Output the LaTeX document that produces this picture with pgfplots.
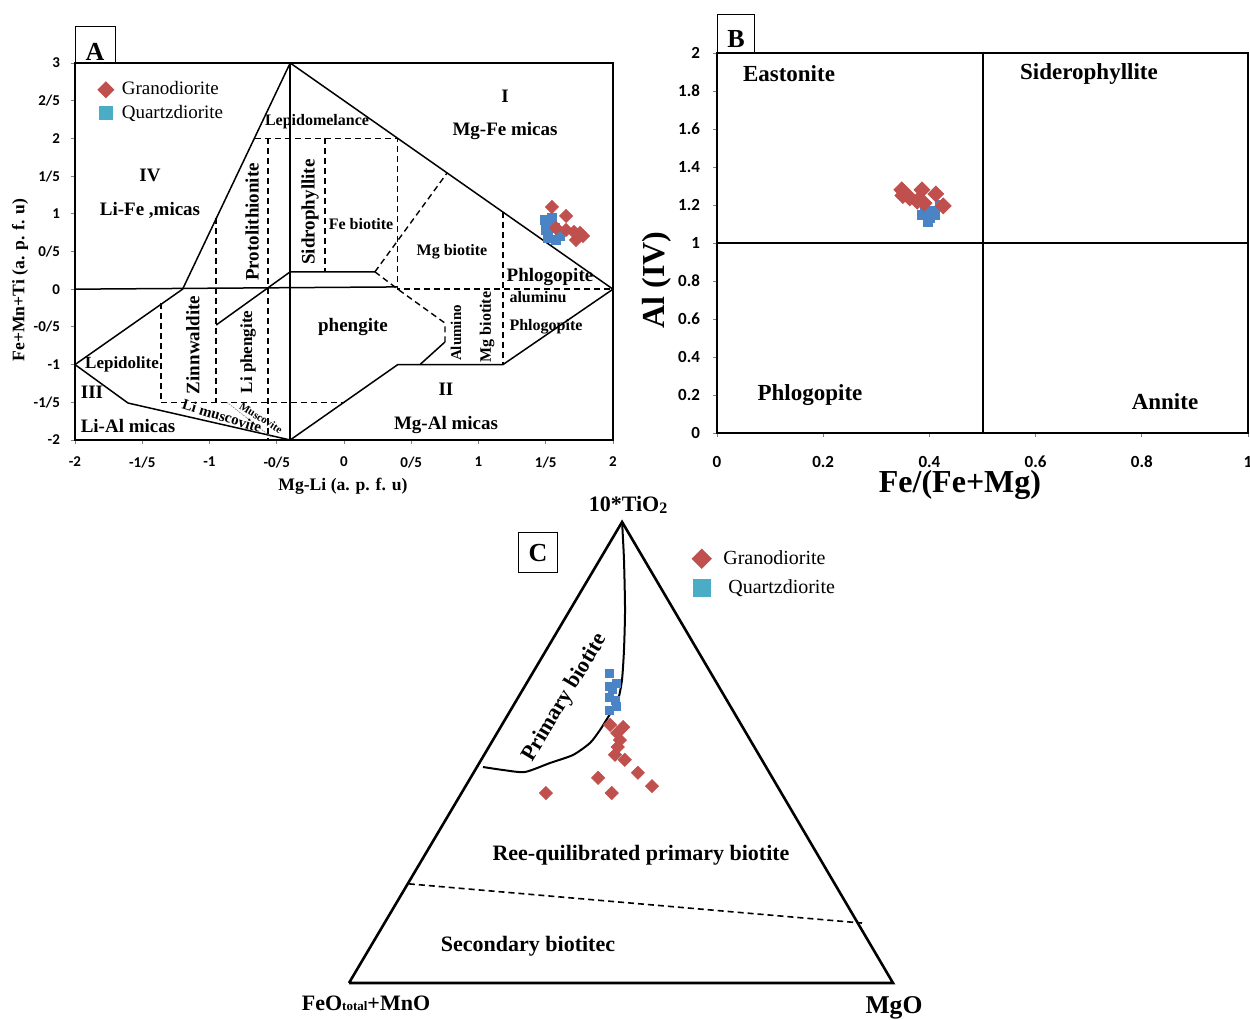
\documentclass[border=0pt]{standalone}
\usepackage{pgfplots}
\pgfplotsset{compat=1.18}
\usepackage{fontspec}
\setmainfont{Liberation Serif}
\newfontfamily\tickfont{Carlito}
\definecolor{gred}{HTML}{C0504D}
\definecolor{qblue}{HTML}{4BACC6}
\definecolor{qdata}{HTML}{4A84C4}
\newcommand{\fs}[1]{\fontsize{#1}{#1}\selectfont}
\begin{document}
\begin{tikzpicture}
\path[use as bounding box] (0,0) rectangle (625pt,510pt);
%================ Panel A ================
\begin{axis}[
  at={(37.5pt,290pt)}, anchor=south west,
  scale only axis, width=269pt, height=188.5pt,
  xmin=-2, xmax=2, ymin=-2, ymax=3,
  xtick={-2,-1.5,-1,-0.5,0,0.5,1,1.5,2},
  ytick={-2,-1.5,-1,-0.5,0,0.5,1,1.5,2,2.5,3},
  xticklabels={-2,-1/5,-1,-0/5,0,0/5,1,1/5,2},
  yticklabels={-2,-1/5,-1,-0/5,0,0/5,1,1/5,2,2/5,3},
  tick label style={font=\tickfont\bfseries\fs{7.5}},
  xticklabel style={yshift=-3pt},
  yticklabel style={xshift=-2pt},
  tick align=outside, tick pos=left, major tick length=2pt,
  every tick/.style={gray},
  axis line style={line width=0.7pt},
  clip=false,
  legend style={draw=none, fill=none, at={(0.042,0.962)}, anchor=north west,
    font=\fs{9.5}, inner sep=0pt, row sep=-0.5pt,
    /tikz/every odd column/.append style={column sep=2pt}},
  legend cell align=left,
]
\addlegendimage{only marks, mark=square*, mark size=2.8pt, mark options={rotate=45, fill=gred, draw=gred}}
\addlegendentry{Granodiorite}
\addlegendimage{only marks, mark=square*, mark size=3.3pt, mark options={fill=qblue, draw=qblue}}
\addlegendentry{Quartzdiorite}
% solid boundaries
\addplot[forget plot, black, line width=0.75pt] coordinates {(-2,-1) (-1.2,0) (-0.4,3) (2,0)};
\addplot[forget plot, black, line width=0.75pt] coordinates {(-2,0) (0.4,0.03)};
\addplot[forget plot, black, line width=0.75pt] coordinates {(-0.4,3) (-0.4,-2)};
\addplot[forget plot, black, line width=0.75pt] coordinates {(-0.95,-0.475) (-0.4,0.23) (0.23,0.23)};
\addplot[forget plot, black, line width=0.75pt] coordinates {(-2,-1) (-1.606,-1.51) (-0.4,-2) (0.4,-1) (1.182,-1) (2,0)};
\addplot[forget plot, black, line width=0.75pt] coordinates {(0.565,-1) (0.751,-0.70)};
% dashed boundaries
\addplot[forget plot, black, line width=0.7pt, dash pattern=on 3pt off 2pt] coordinates {(-0.662,2) (0.4,2) (0.4,0) (2,0)};
\addplot[forget plot, black, line width=0.7pt, dash pattern=on 3pt off 2pt] coordinates {(0.23,0.23) (0.766,1.54)};
\addplot[forget plot, black, line width=0.7pt, dash pattern=on 3pt off 2pt] coordinates {(0.23,0.23) (0.4,0.0) (0.751,-0.45) (0.751,-0.70)};
\addplot[forget plot, black, line width=0.7pt, dash pattern=on 3pt off 2pt] coordinates {(-0.141,2) (-0.141,0.23)};
\addplot[forget plot, black, line width=0.7pt, dash pattern=on 3pt off 2pt] coordinates {(-0.565,2) (-0.565,-2)};
\addplot[forget plot, black, line width=0.7pt, dash pattern=on 3pt off 2pt] coordinates {(-0.952,0.95) (-0.952,-1.5)};
\addplot[forget plot, black, line width=0.7pt, dash pattern=on 3pt off 2pt] coordinates {(-1.361,-0.18) (-1.361,-1.5) (0.007,-1.5)};
\addplot[forget plot, black, line width=0.7pt, dash pattern=on 3pt off 2pt] coordinates {(1.182,1.02) (1.182,-1)};
\addplot[forget plot, gray, line width=0.3pt, dash pattern=on 0.8pt off 0.5pt] coordinates {(-0.87,-1.5) (-0.535,-1.97)};
% data
\addplot[forget plot, only marks, mark=square*, mark size=2.1pt, color=qdata] coordinates {
(1.494,0.918) (1.546,0.944) (1.502,0.785) (1.569,0.812) (1.517,0.679) (1.576,0.653) (1.606,0.706) (1.53,0.86)};
\addplot[forget plot, only marks, mark=square*, mark size=2.3pt, mark options={rotate=45}, color=gred] coordinates {
(1.546,1.090) (1.651,0.971) (1.576,0.812) (1.651,0.785) (1.710,0.759) (1.755,0.745) (1.777,0.706) (1.725,0.653)};
\end{axis}
%================ Panel B ================
\begin{axis}[
  at={(358.5pt,293.5pt)}, anchor=south west,
  scale only axis, width=265.5pt, height=190pt,
  xmin=0, xmax=1, ymin=0, ymax=2,
  xtick={0,0.2,0.4,0.6,0.8,1},
  ytick={0,0.2,0.4,0.6,0.8,1,1.2,1.4,1.6,1.8,2},
  /pgf/number format/assume math mode=true,
  tick label style={font=\tickfont\bfseries\fs{8.5}},
  xticklabel style={yshift=-6pt},
  yticklabel style={xshift=-3pt},
  tick align=outside, tick pos=left, major tick length=2pt,
  every tick/.style={gray},
  axis line style={line width=1pt},
  clip=false,
]
\addplot[black, line width=1pt] coordinates {(0,1) (1,1)};
\addplot[black, line width=1pt] coordinates {(0.5,0) (0.5,2)};
\addplot[only marks, mark=square*, mark size=2.2pt, color=qdata] coordinates {
(0.392,1.17) (0.401,1.13) (0.397,1.11) (0.41,1.147) (0.42,1.2) (0.386,1.147) (0.405,1.17)};
\addplot[only marks, mark=square*, mark size=2.8pt, mark options={rotate=45}, color=gred] coordinates {
(0.348,1.28) (0.350,1.25) (0.363,1.237) (0.377,1.22) (0.386,1.28) (0.390,1.21) (0.412,1.258) (0.426,1.195)};
\end{axis}
%================ Panel C ================
\begin{axis}[
  at={(174.5pt,18.5pt)}, anchor=south west,
  scale only axis, width=272pt, height=230.5pt,
  xmin=0, xmax=1, ymin=0, ymax=1,
  axis lines=none, clip=false,
  legend style={draw=none, fill=none, at={(0.63,0.948)}, anchor=north west,
    font=\fs{10}, inner sep=0pt, row sep=2pt,
    /tikz/every odd column/.append style={column sep=4pt}},
  legend cell align=left,
]
\addlegendimage{only marks, mark=square*, mark size=3.4pt, mark options={rotate=45, fill=gred, draw=gred}}
\addlegendentry{Granodiorite}
\addlegendimage{only marks, mark=square*, mark size=4.2pt, mark options={fill=qblue, draw=qblue}}
\addlegendentry{\ Quartzdiorite}
\addplot[forget plot, black, line width=1.3pt] coordinates {(0,0) (0.502,1) (1,0) (0,0)};
\addplot[forget plot, black, line width=0.8pt, dash pattern=on 3pt off 2pt] coordinates {(0.110,0.215) (0.943,0.130)};
\addplot[forget plot, black, line width=1pt, smooth, tension=0.4] coordinates {
(0.502,1.0) (0.5055,0.9176) (0.5074,0.8091) (0.5055,0.7223) (0.5018,0.6573) (0.4945,0.6139)
(0.4798,0.5835) (0.4614,0.5488) (0.4430,0.5206) (0.4118,0.4946) (0.3695,0.4772) (0.3235,0.4577)
(0.2831,0.4620) (0.2463,0.4685)};
\addplot[forget plot, only marks, mark=square*, mark size=2pt, color=qdata] coordinates {
(0.478,0.672) (0.491,0.649) (0.478,0.644) (0.478,0.620) (0.489,0.614) (0.478,0.592) (0.491,0.601) (0.485,0.636)};
\addplot[forget plot, only marks, mark=square*, mark size=2.3pt, mark options={rotate=45}, color=gred] coordinates {
(0.480,0.560) (0.504,0.555) (0.493,0.542) (0.498,0.527) (0.494,0.512) (0.489,0.495) (0.507,0.484)
(0.531,0.456) (0.557,0.427) (0.458,0.445) (0.483,0.412) (0.362,0.412)};
\end{axis}
%================ Texts (pixel coordinates) ================
\begin{scope}[x=0.5pt,y=-0.5pt,yshift=510pt]
% boxes
\draw[line width=0.5pt] (75,27) rectangle (115,63);
\node[anchor=base, font=\bfseries\fs{13}, inner sep=0pt] at (95,61) {A};
\draw[line width=0.5pt] (717,15) rectangle (754,53);
\node[anchor=base, font=\bfseries\fs{13}, inner sep=0pt] at (736,48) {B};
\draw[line width=0.5pt] (518,533) rectangle (557,573);
\node[anchor=base, font=\bfseries\fs{13}, inner sep=0pt] at (538,562) {C};
% Panel A labels
\begin{scope}[every node/.style={inner sep=0pt, font=\bfseries\fs{9.5}}]
\node[font=\bfseries\fs{8}] at (317,122) {Lepidomelance};
\node at (505,96) {I};
\node at (505,131) {Mg-Fe micas};
\node at (150,175) {IV};
\node at (150,210) {Li-Fe ,micas};
\node[rotate=90] at (252,222) {Protolithionite};
\node[rotate=90] at (310,212) {Sidrophyllite};
\node[font=\bfseries\fs{8}] at (361,224) {Fe biotite};
\node[font=\bfseries\fs{8}] at (452,252) {Mg biotite};
\node at (550,277) {Phlogopite};
\node[font=\bfseries\fs{8}] at (538,297) {aluminu};
\node[font=\bfseries\fs{8}] at (546,327) {Phlogopite};
\node at (353,327) {phengite};
\node[rotate=90, font=\bfseries\fs{7.5}] at (456,333) {Alumino};
\node[rotate=90, font=\bfseries\fs{8}] at (487,327) {Mg biotite};
\node[rotate=90] at (193,345) {Zinnwaldite};
\node[rotate=90, font=\bfseries\fs{8.5}] at (248,352) {Li phengite};
\node[font=\bfseries\fs{8.5}] at (122,364) {Lepidolite};
\node at (92,392) {III};
\node at (128,426) {Li-Al micas};
\node[rotate=-17, font=\bfseries\fs{7.5}] at (222,416) {Li muscovite};
\node[rotate=-32, font=\bfseries\fs{5.5}] at (261,418) {Muscovite};
\node at (446,389) {II};
\node at (446,425) {Mg-Al micas};
\node[font=\bfseries\fs{8.8}] at (343,486) {Mg-Li (a. p. f. u)};
\node[rotate=90, font=\bfseries\fs{8.8}] at (20,280) {Fe+Mn+Ti (a. p. f. u)};
\end{scope}
% Panel B labels
\begin{scope}[every node/.style={inner sep=0pt, font=\bfseries\fs{11.5}}]
\node at (789,74) {Eastonite};
\node at (1089,74) {Siderophyllite};
\node at (810,395) {Phlogopite};
\node at (1165,402) {Annite};
\node[font=\bfseries\fs{16}] at (960,485) {Fe/(Fe+Mg)};
\node[rotate=90, font=\bfseries\fs{16}] at (657,280) {Al (IV)};
\end{scope}
% Panel C labels
\begin{scope}[every node/.style={inner sep=0pt, font=\bfseries\fs{11}}]
\node at (628,505) {10*TiO\raisebox{-0.25ex}{\fs{8}2}};
\node[rotate=59] at (565,698) {Primary biotite};
\node at (641,855) {Ree-quilibrated primary biotite};
\node at (528,946) {Secondary biotitec};
\node at (366,1003) {FeO{\fs{6.5}total}+MnO};
\node[font=\bfseries\fs{12.8}] at (894,1008) {MgO};
\end{scope}
\end{scope}
\end{tikzpicture}
\end{document}
